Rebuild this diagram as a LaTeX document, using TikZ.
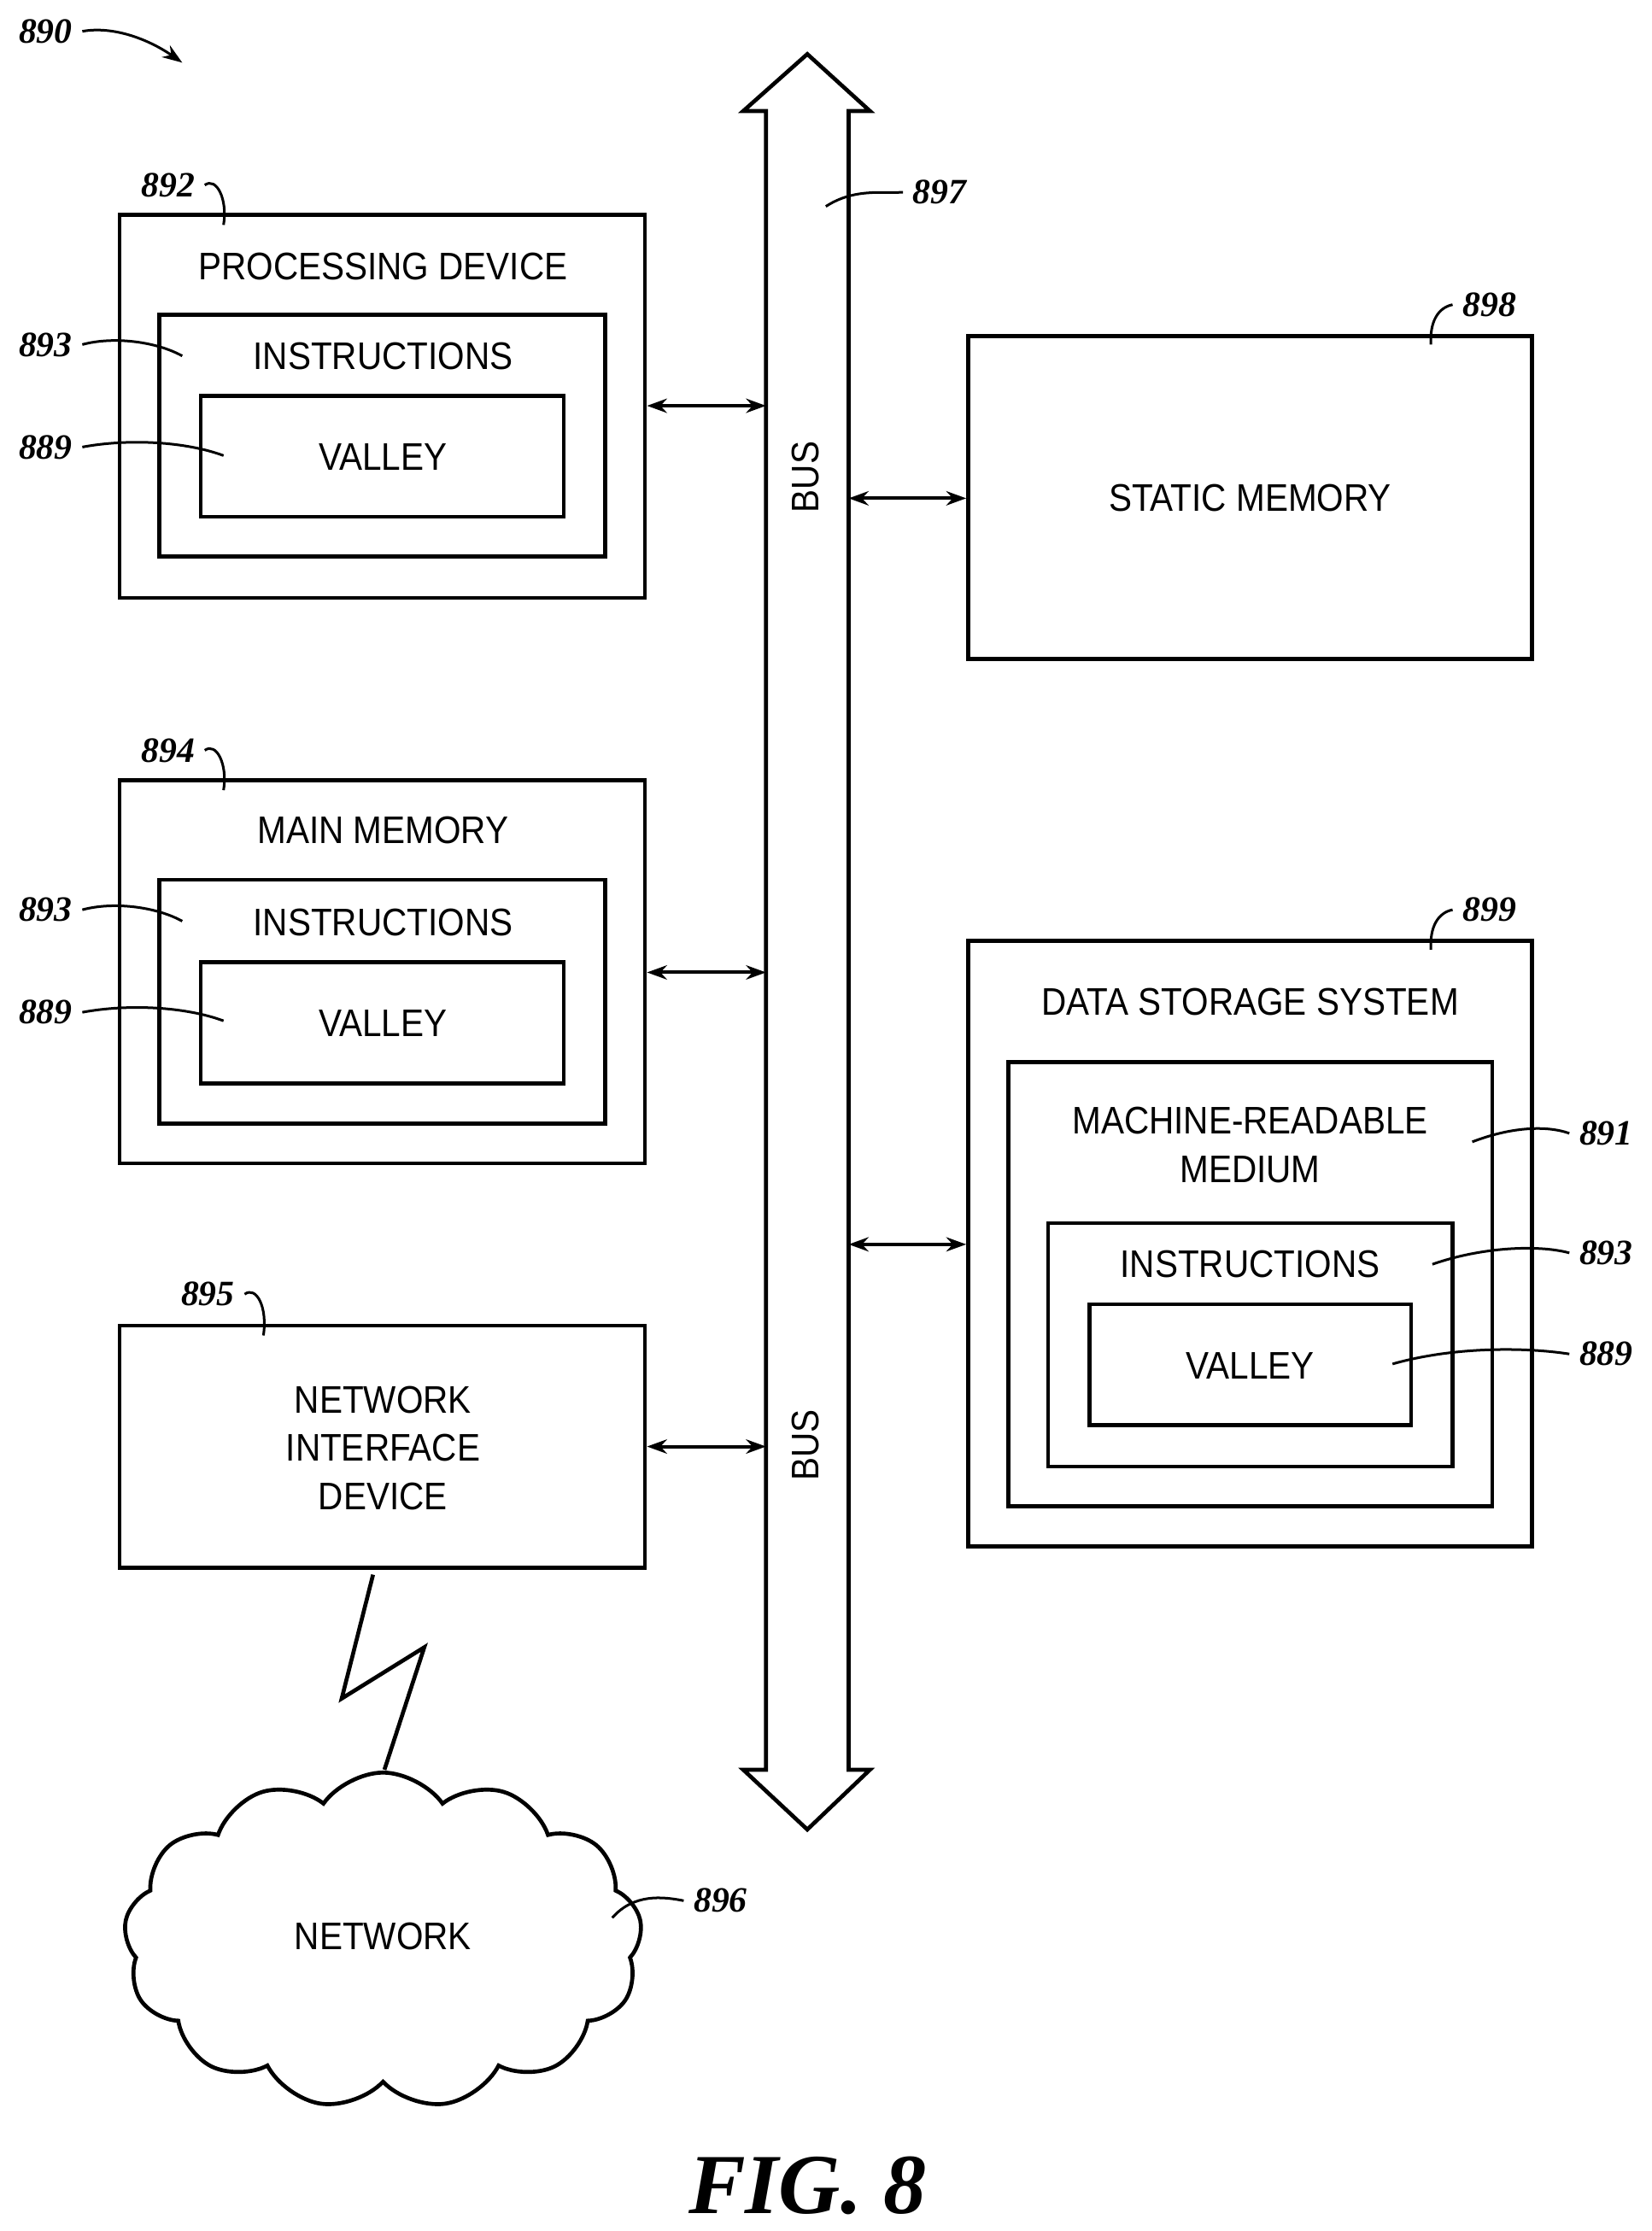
\documentclass[tikz,border=0pt]{standalone}
\usepackage{fontspec}
\setmainfont{Liberation Sans}[FakeStretch=0.9]
\newfontfamily\numfont{Liberation Serif}
\usetikzlibrary{fit,shapes.symbols,arrows.meta}
\begin{document}
\begin{tikzpicture}[x=0.5pt,y=-0.5pt,
 box/.style={draw,line width=1.4pt,inner sep=0pt},
 txt/.style={font=\fontsize{13.5}{17}\selectfont,align=center},
 num/.style={font=\numfont\bfseries\itshape\fontsize{12.5}{14}\selectfont},
 lead/.style={line width=0.9pt},
 link/.style={line width=1.2pt,{Stealth[length=7pt,width=5pt]}-{Stealth[length=7pt,width=5pt]}}]
\useasboundingbox (0,0) rectangle (1160,1567);
% bus
\draw[line width=1.4pt] (538,1243)--(538,78)--(522,78)--(567,38)--(611,78)--(596,78)--(596,1243)--(611,1243)--(567,1285)--(522,1243)--cycle;
\node[txt,rotate=90] (bus1) at (566,335) {BUS};
\node[txt,rotate=90] (bus2) at (566,1015) {BUS};
\node[num] (n897) at (660,135) {897};
\draw[lead] (580,145) .. controls (600,132) and (620,136) .. (n897.west);
% processing device
\node[box,fit={(84,151)(453,420)}] (pd) {};
\node[txt] at (269,187) {PROCESSING DEVICE};
\node[box,fit={(112,221)(425,391)}] (pdi) {};
\node[txt] at (269,250) {INSTRUCTIONS};
\node[box,fit={(141,278)(396,363)}] (pdv) {};
\node[txt] at (269,321) {VALLEY};
\coordinate (a1) at (538,285);
\draw[link] (pd.east|-a1) -- (a1);
\node[num] (n892) at (118,130) {892};
\draw[lead] (n892.east) .. controls (152,124) and (160,140) .. (157,158);
\node[num] (n893a) at (32,242) {893};
\draw[lead] (n893a.east) .. controls (80,236) and (110,240) .. (128,250);
\node[num] (n889a) at (32,314) {889};
\draw[lead] (n889a.east) .. controls (90,308) and (130,310) .. (157,320);
% main memory
\node[box,fit={(84,548)(453,817)}] (mm) {};
\node[txt] at (269,583) {MAIN MEMORY};
\node[box,fit={(112,618)(425,789)}] (mmi) {};
\node[txt] at (269,648) {INSTRUCTIONS};
\node[box,fit={(141,676)(396,761)}] (mmv) {};
\node[txt] at (269,719) {VALLEY};
\coordinate (a2) at (538,683);
\draw[link] (mm.east|-a2) -- (a2);
\node[num] (n894) at (118,527) {894};
\draw[lead] (n894.east) .. controls (152,521) and (160,537) .. (157,555);
\node[num] (n893b) at (32,639) {893};
\draw[lead] (n893b.east) .. controls (80,633) and (110,637) .. (128,647);
\node[num] (n889b) at (32,711) {889};
\draw[lead] (n889b.east) .. controls (90,705) and (130,707) .. (157,717);
% network interface
\node[box,fit={(84,931)(453,1101)}] (nid) {};
\node[txt] at (269,1017) {NETWORK\\INTERFACE\\DEVICE};
\coordinate (a3) at (538,1016);
\draw[link] (nid.east|-a3) -- (a3);
\node[num] (n895) at (146,909) {895};
\draw[lead] (n895.east) .. controls (180,903) and (188,918) .. (185,938);
% static memory
\node[box,fit={(680,236)(1076,463)}] (sm) {};
\node[txt] at (878,350) {STATIC MEMORY};
\coordinate (a4) at (596,350);
\draw[link] (a4) -- (sm.west|-a4);
\node[num] (n898) at (1046,214) {898};
\draw[lead] (n898.west) .. controls (1010,216) and (1004,226) .. (1005,242);
% data storage
\node[box,fit={(680,661)(1076,1086)}] (ds) {};
\node[txt] at (878,704) {DATA STORAGE SYSTEM};
\node[box,fit={(708,746)(1048,1058)}] (mrm) {};
\node[txt] at (878,804) {MACHINE-READABLE\\MEDIUM};
\node[box,fit={(736,859)(1020,1030)}] (dsi) {};
\node[txt] at (878,888) {INSTRUCTIONS};
\node[box,fit={(765,916)(991,1001)}] (dsv) {};
\node[txt] at (878,959) {VALLEY};
\coordinate (a5) at (596,874);
\draw[link] (a5) -- (ds.west|-a5);
\node[num] (n899) at (1046,639) {899};
\draw[lead] (n899.west) .. controls (1010,641) and (1004,651) .. (1005,667);
\node[num] (n891) at (1128,796) {891};
\draw[lead] (1034,802) .. controls (1060,792) and (1085,790) .. (n891.west);
\node[num] (n893c) at (1128,880) {893};
\draw[lead] (1006,888) .. controls (1040,876) and (1080,874) .. (n893c.west);
\node[num] (n889c) at (1128,951) {889};
\draw[lead] (978,958) .. controls (1020,946) and (1070,946) .. (n889c.west);
% lightning and network
\draw[line width=1.4pt,line join=miter] (262,1106)--(240,1193)--(298,1157)--(270,1243);
\node[cloud,draw,line width=1.4pt,cloud puffs=13,cloud puff arc=110,aspect=1.5,minimum width=182pt,minimum height=118pt,inner sep=0pt] (net) at (269,1363) {};
\node[txt] at (269,1360) {NETWORK};
\node[num] (n896) at (506,1335) {896};
\draw[lead] (430,1347) .. controls (445,1330) and (465,1332) .. (n896.west);
% figure label
\node[num] (n890) at (32,22) {890};
\draw[lead,-{Stealth[length=7pt,width=5pt]}] (n890.east) .. controls (80,18) and (105,28) .. (128,44);
\node[font=\numfont\bfseries\itshape\fontsize{30}{34}\selectfont] (fig) at (567,1535) {FIG. 8};
\end{tikzpicture}
\end{document}
